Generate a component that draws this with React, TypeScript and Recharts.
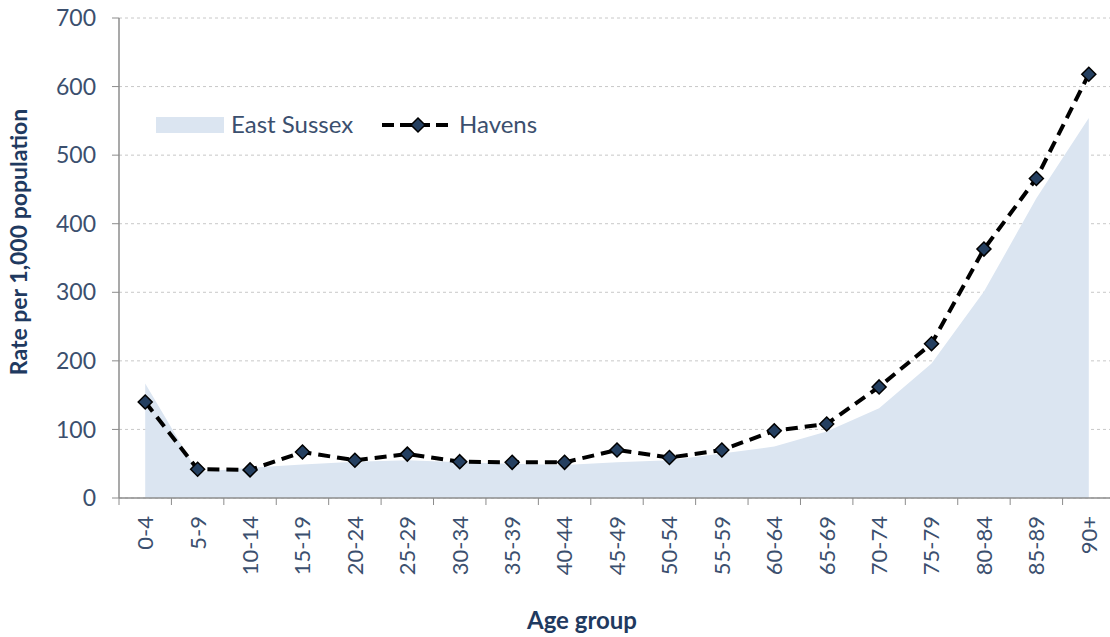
import React from 'react';
import { ComposedChart, Area, Line, XAxis, YAxis, CartesianGrid, Legend } from 'recharts';

const ageGroups = ['0-4', '5-9', '10-14', '15-19', '20-24', '25-29', '30-34', '35-39', '40-44', '45-49', '50-54', '55-59', '60-64', '65-69', '70-74', '75-79', '80-84', '85-89', '90+'];
const eastSussex = [167, 38, 44, 49, 53, 55, 52, 50, 48, 52, 55, 65, 75, 97, 131, 196, 301, 437, 554];
const havens = [140, 42, 41, 67, 55, 64, 53, 52, 52, 70, 59, 70, 98, 108, 162, 225, 363, 466, 618];
const yTicks = [0, 100, 200, 300, 400, 500, 600, 700];

const data = ageGroups.map((age, i) => ({ age, eastSussex: eastSussex[i], havens: havens[i] }));

const FONT = 'Lato, "Open Sans", "Noto Sans", sans-serif';
const TICK_COLOR = '#3b4f6e';
const TITLE_COLOR = '#1f3a60';
const AXIS = '#8c8c8c';
const AREA = '#dbe5f1';
const MARKER = '#243f60';

const Diamond = (props: any) => {
  const { cx, cy } = props;
  if (cx == null || cy == null) return null;
  const s = 7;
  return (
    <polygon
      points={`${cx},${cy - s} ${cx + s},${cy} ${cx},${cy + s} ${cx - s},${cy}`}
      fill={MARKER}
      stroke="#000"
      strokeWidth={1.5}
    />
  );
};

const XTick = (props: any) => {
  const { x, y, payload } = props;
  const off = payload && typeof payload.offset === 'number' && payload.offset > 0 ? payload.offset : 26.2;
  const axisY = y - 18;
  return (
    <g>
      <line x1={x - off} x2={x - off} y1={axisY} y2={axisY + 7} stroke={AXIS} />
      <text
        x={x}
        y={y}
        transform={`rotate(-90 ${x} ${y})`}
        textAnchor="end"
        dy="0.36em"
        fill={TICK_COLOR}
        fontSize={22}
        fontFamily={FONT}
      >
        {payload.value}
      </text>
    </g>
  );
};

const LegendContent = () => (
  <div style={{ position: 'relative', width: 1120, height: 0, fontFamily: FONT, fontSize: 24, color: TICK_COLOR }}>
    <div style={{ position: 'absolute', left: 156, top: 117, width: 68, height: 16, background: AREA }} />
    <div style={{ position: 'absolute', left: 231, top: 109, lineHeight: '30px', whiteSpace: 'nowrap' }}>East Sussex</div>
    <svg style={{ position: 'absolute', left: 381, top: 115 }} width={74} height={20}>
      <line x1={1} x2={73} y1={10} y2={10} stroke="#000" strokeWidth={4} strokeDasharray="12 6" />
      <polygon points="37,3 44,10 37,17 30,10" fill={MARKER} stroke="#000" strokeWidth={1.5} />
    </svg>
    <div style={{ position: 'absolute', left: 459, top: 109, lineHeight: '30px', whiteSpace: 'nowrap' }}>Havens</div>
  </div>
);

export default function App() {
  return (
    <div style={{ position: 'fixed', left: 0, top: 0, width: 1110, height: 637, overflow: 'hidden', background: '#fff' }}>
      <ComposedChart width={1120} height={637} data={data} margin={{ top: 18, right: 5, bottom: 0, left: 0 }}>
        <CartesianGrid vertical={false} stroke="#c8c8c8" strokeDasharray="3 3" />
        <XAxis
          dataKey="age"
          scale="band"
          interval={0}
          height={139}
          tickLine={false}
          tickSize={7}
          tickMargin={11}
          axisLine={{ stroke: AXIS, strokeWidth: 1.5 }}
          tick={<XTick />}
          label={() => (
            <text x={582} y={629} textAnchor="middle" fill={TITLE_COLOR} fontSize={24} fontWeight={700} fontFamily={FONT}>
              Age group
            </text>
          )}
        />
        <YAxis
          width={119}
          domain={[0, 700]}
          ticks={yTicks}
          interval={0}
          tickSize={7}
          tickMargin={16}
          axisLine={{ stroke: AXIS, strokeWidth: 1.5 }}
          tickLine={{ stroke: AXIS }}
          tick={{ fill: TICK_COLOR, fontSize: 23, fontFamily: FONT }}
          label={() => (
            <text
              x={27}
              y={242}
              transform="rotate(-90 27 242)"
              textAnchor="middle"
              fill={TITLE_COLOR}
              fontSize={23}
              fontWeight={700}
              fontFamily={FONT}
            >
              Rate per 1,000 population
            </text>
          )}
        />
        <Legend
          layout="horizontal"
          verticalAlign="middle"
          align="center"
          wrapperStyle={{ left: 0, top: 0, width: 1120, height: 0 }}
          content={<LegendContent />}
        />
        <Area
          type="linear"
          dataKey="eastSussex"
          name="East Sussex"
          fill={AREA}
          fillOpacity={1}
          stroke="none"
          isAnimationActive={false}
          activeDot={false}
        />
        <Line
          type="linear"
          dataKey="havens"
          name="Havens"
          stroke="#000"
          strokeWidth={4}
          strokeDasharray="12 7"
          dot={<Diamond />}
          activeDot={false}
          isAnimationActive={false}
        />
      </ComposedChart>
    </div>
  );
}
